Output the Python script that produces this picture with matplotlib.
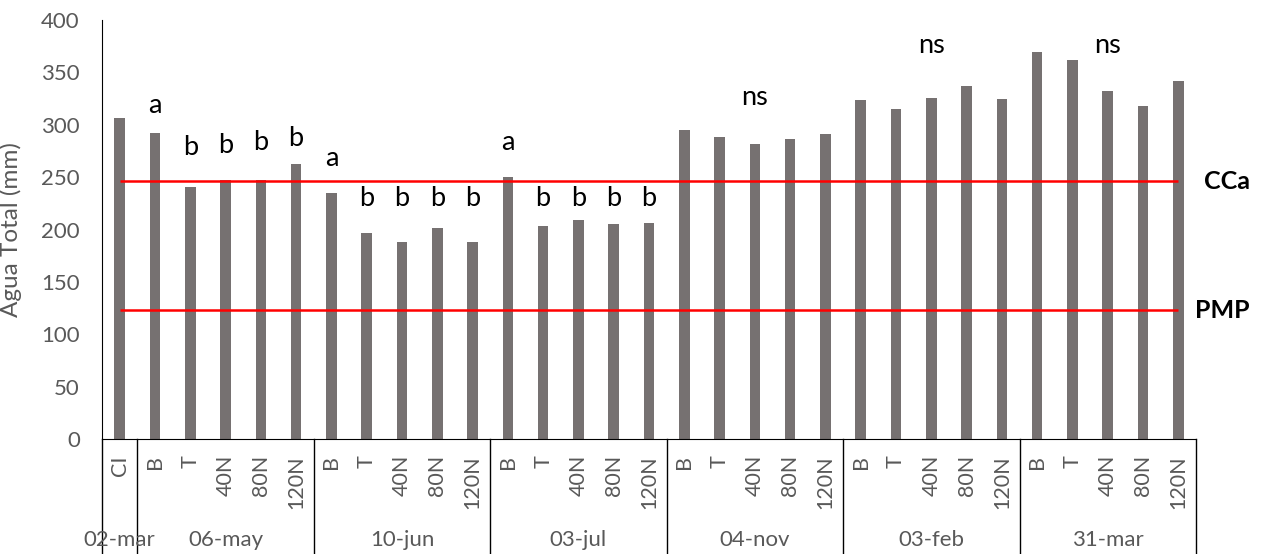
import matplotlib
matplotlib.use("Agg")
import matplotlib.pyplot as plt
import matplotlib.transforms as mtransforms

plt.rcParams['font.family'] = ['Lato', 'DejaVu Sans']

# Sampling dates and treatments
dates = ["02-mar", "06-may", "10-jun", "03-jul", "04-nov", "03-feb", "31-mar"]
treatments = ["B", "T", "40N", "80N", "120N"]
tick_labels = ["CI"] + treatments * 6
group_sizes = [1, 5, 5, 5, 5, 5, 5]

# Total soil water (mm)
agua_total = [306,
              292, 241, 247, 247, 263,
              235, 197, 188, 201, 188,
              250, 203, 209, 205, 206,
              295, 288, 282, 286, 291,
              324, 315, 326, 337, 325,
              369, 362, 332, 318, 342]

# Reference water contents (mm)
cca = 246
pmp = 123

# Significance letters: bar index and label height
sig_text = ["a", "b", "b", "b", "b",
            "a", "b", "b", "b", "b",
            "a", "b", "b", "b", "b",
            "ns", "ns", "ns"]
sig_index = [1, 2, 3, 4, 5,
             6, 7, 8, 9, 10,
             11, 12, 13, 14, 15,
             18, 23, 28]
sig_y = [318, 278, 280, 283, 287,
         268, 230, 230, 230, 230,
         283, 230, 230, 230, 230,
         326, 376, 376]

W, H = 1262, 554
fig = plt.figure(figsize=(W / 100, H / 100), dpi=100)
ax = fig.add_axes([102 / W, (H - 439) / H, (1196 - 102) / W, (439 - 20) / H])

x = list(range(len(agua_total)))
ax.bar(x, agua_total, width=0.3, color="#767171", zorder=2)

ax.hlines([cca, pmp], 0, len(agua_total) - 1, colors="#FF0000", linewidth=1.8, zorder=3)

ax.set_xlim(-0.5, len(agua_total) - 0.5)
ax.set_ylim(0, 400)
ax.set_yticks(range(0, 401, 50))
ax.tick_params(axis="y", length=0, pad=16, labelsize=16, labelcolor="#595959")
ax.set_xticks([])
for s in ["top", "right"]:
    ax.spines[s].set_visible(False)
ax.spines["left"].set_color("black")
ax.spines["bottom"].set_color("black")
ax.set_ylabel("Agua Total (mm)", fontsize=17.5, color="#595959")
ax.yaxis.set_label_coords((22 - 102) / (1196 - 102), 0.5)

for t, i, yv in zip(sig_text, sig_index, sig_y):
    ax.text(i, yv, t, ha="center", va="center", fontsize=19.5, color="black")

# Line labels on the right
rtrans = mtransforms.blended_transform_factory(ax.transAxes, ax.transData)
x_right = (1250 - 102) / (1196 - 102)
ax.text(x_right, cca, "CCa", transform=rtrans,
        ha="right", va="center", fontsize=18, fontweight="bold", color="black")
ax.text(x_right, pmp, "PMP", transform=rtrans,
        ha="right", va="center", fontsize=18, fontweight="bold", color="black")

# Two-level category axis
trans = mtransforms.blended_transform_factory(ax.transData, ax.transAxes)
ax_h = 439 - 20
for i, lab in enumerate(tick_labels):
    ax.text(i, -16 / ax_h, lab, transform=trans, rotation=90, ha="center", va="top",
            fontsize=15.5, color="#595959")

edges = [-0.5]
for g in group_sizes:
    edges.append(edges[-1] + g)
for e in edges:
    ax.plot([e, e], [0, -(554 - 439) / ax_h], transform=trans, color="black",
            linewidth=1.0, clip_on=False)

for k, d in enumerate(dates):
    center = (edges[k] + edges[k + 1]) / 2
    ax.text(center, -(540 - 439) / ax_h, d, transform=trans, ha="center", va="center",
            fontsize=16, color="#595959")

fig.savefig("out.png", dpi=100)
